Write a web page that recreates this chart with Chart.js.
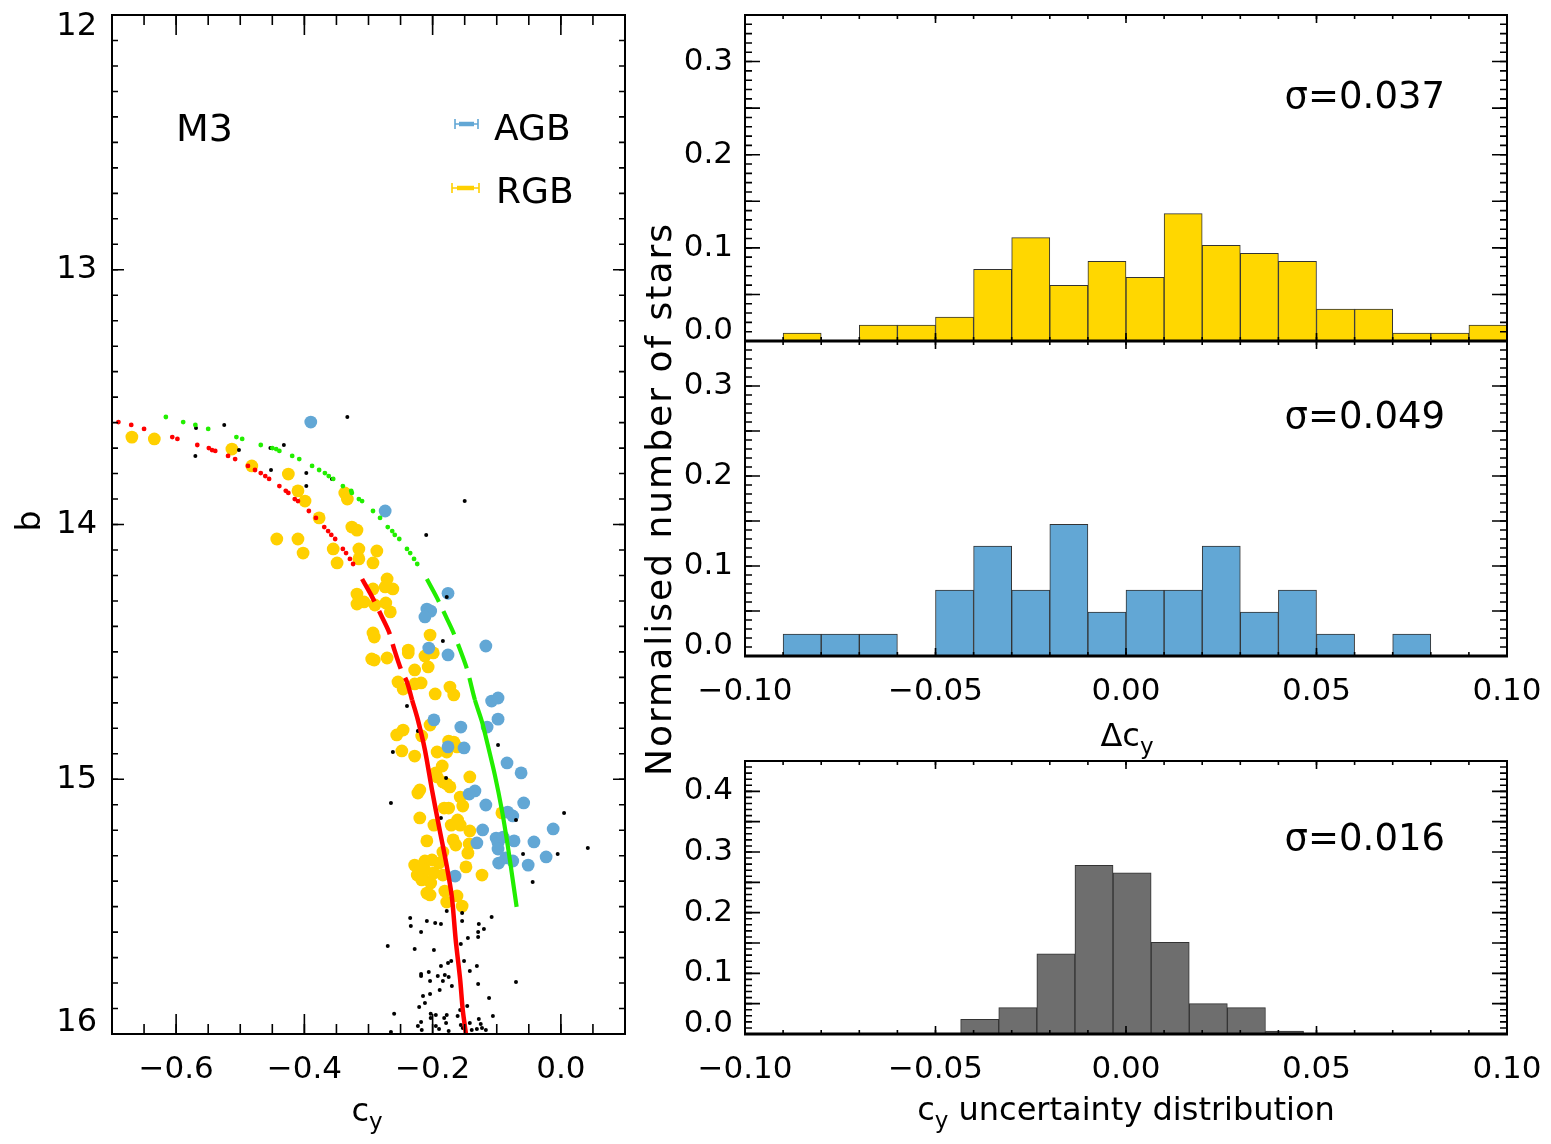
<!DOCTYPE html>
<html><head><meta charset="utf-8">
<script src="https://cdn.jsdelivr.net/npm/chart.js@4/dist/chart.umd.min.js"></script>
<style>
html,body{margin:0;padding:0;background:#fff;}
#wrap{position:relative;width:1551px;height:1144px;background:#fff;}
canvas{position:absolute;left:0;top:0;}
</style></head><body><div id="wrap">
<canvas id="cmd" width="1551" height="1144"></canvas>
<canvas id="h1" width="1551" height="1144"></canvas>
<canvas id="h2" width="1551" height="1144"></canvas>
<canvas id="h3" width="1551" height="1144"></canvas>
</div>
<script>
// ---------------- DATA ----------------
// CMD (c_y vs b)
const rgbStars = [[-0.669,13.657],[-0.634,13.664],[-0.513,13.704],[-0.482,13.770],[-0.425,13.802],[-0.410,13.868],[-0.399,13.908],[-0.377,13.974],[-0.443,14.057],[-0.410,14.057],[-0.402,14.112],[-0.355,14.096],[-0.349,14.151],[-0.337,13.876],[-0.333,13.900],[-0.326,14.010],[-0.318,14.022],[-0.315,14.096],[-0.315,14.135],[-0.293,14.151],[-0.287,14.104],[-0.271,14.214],[-0.274,14.245],[-0.262,14.253],[-0.273,14.308],[-0.266,14.343],[-0.318,14.273],[-0.318,14.312],[-0.307,14.304],[-0.293,14.253],[-0.290,14.316],[-0.293,14.426],[-0.291,14.442],[-0.204,14.434],[-0.238,14.493],[-0.295,14.528],[-0.291,14.532],[-0.271,14.524],[-0.238,14.504],[-0.199,14.504],[-0.212,14.516],[-0.228,14.571],[-0.207,14.559],[-0.254,14.618],[-0.246,14.646],[-0.228,14.626],[-0.218,14.622],[-0.196,14.665],[-0.173,14.638],[-0.167,14.669],[-0.204,14.787],[-0.246,14.807],[-0.256,14.826],[-0.217,14.830],[-0.248,14.889],[-0.228,14.909],[-0.193,14.893],[-0.178,14.893],[-0.175,14.850],[-0.167,14.854],[-0.162,14.873],[-0.185,14.948],[-0.195,14.975],[-0.193,14.991],[-0.142,14.991],[-0.184,15.011],[-0.178,15.019],[-0.173,15.030],[-0.220,15.042],[-0.223,15.054],[-0.157,15.070],[-0.153,15.105],[-0.182,15.113],[-0.175,15.113],[-0.220,15.152],[-0.198,15.180],[-0.171,15.180],[-0.161,15.160],[-0.157,15.180],[-0.142,15.203],[-0.209,15.242],[-0.168,15.238],[-0.164,15.258],[-0.143,15.254],[-0.145,15.290],[-0.184,15.286],[-0.228,15.337],[-0.212,15.321],[-0.201,15.317],[-0.190,15.329],[-0.221,15.364],[-0.212,15.356],[-0.224,15.376],[-0.215,15.388],[-0.198,15.368],[-0.184,15.376],[-0.203,15.407],[-0.209,15.447],[-0.204,15.454],[-0.181,15.439],[-0.148,15.344],[-0.123,15.376],[-0.162,15.458],[-0.092,15.132],[-0.217,15.395],[-0.178,15.482],[-0.154,15.498]];
const agbStars = [[-0.390,13.598],[-0.274,13.947],[-0.176,14.270],[-0.209,14.332],[-0.203,14.340],[-0.212,14.363],[-0.117,14.477],[-0.206,14.485],[-0.176,14.512],[-0.108,14.693],[-0.098,14.681],[-0.098,14.764],[-0.198,14.767],[-0.156,14.795],[-0.115,14.795],[-0.176,14.873],[-0.151,14.877],[-0.084,14.936],[-0.062,14.975],[-0.134,15.046],[-0.143,15.058],[-0.117,15.101],[-0.058,15.093],[-0.083,15.129],[-0.075,15.144],[-0.012,15.195],[-0.122,15.199],[-0.131,15.250],[-0.101,15.231],[-0.098,15.250],[-0.098,15.274],[-0.090,15.227],[-0.073,15.242],[-0.042,15.246],[-0.086,15.309],[-0.097,15.329],[-0.075,15.321],[-0.051,15.337],[-0.023,15.305],[-0.165,15.380]];
const otherStars = [[-0.569,13.621],[-0.570,13.731],[-0.525,13.609],[-0.502,13.708],[-0.453,13.700],[-0.432,13.688],[-0.452,13.786],[-0.397,13.798],[-0.397,13.849],[-0.357,13.821],[-0.333,13.578],[-0.150,13.908],[-0.210,14.041],[-0.178,14.285],[-0.184,14.457],[-0.240,14.712],[-0.223,14.811],[-0.262,14.893],[-0.098,14.866],[-0.179,14.995],[-0.265,15.093],[-0.187,15.152],[-0.070,15.160],[0.005,15.132],[-0.059,15.293],[-0.005,15.293],[0.042,15.270],[-0.044,15.403],[-0.235,15.545],[-0.234,15.576],[-0.209,15.556],[-0.196,15.564],[-0.187,15.568],[-0.218,15.600],[-0.108,15.541],[-0.128,15.568],[-0.120,15.588],[-0.129,15.600],[-0.129,15.619],[-0.154,15.525],[-0.178,15.517],[-0.154,15.556],[-0.145,15.623],[-0.270,15.655],[-0.228,15.666],[-0.198,15.670],[-0.156,15.647],[-0.176,15.721],[-0.171,15.713],[-0.187,15.733],[-0.151,15.713],[-0.131,15.733],[-0.142,15.753],[-0.218,15.764],[-0.218,15.772],[-0.206,15.757],[-0.204,15.792],[-0.192,15.772],[-0.181,15.768],[-0.175,15.776],[-0.184,15.792],[-0.170,15.812],[-0.189,15.827],[-0.129,15.804],[-0.070,15.796],[-0.215,15.851],[-0.204,15.843],[-0.212,15.878],[-0.221,15.894],[-0.146,15.890],[-0.112,15.859],[-0.260,15.921],[-0.203,15.921],[-0.203,15.937],[-0.195,15.925],[-0.178,15.925],[-0.161,15.929],[-0.182,15.937],[-0.106,15.929],[-0.218,15.953],[-0.223,15.969],[-0.195,15.969],[-0.190,15.980],[-0.179,15.957],[-0.175,15.988],[-0.217,15.984],[-0.265,15.992],[-0.156,15.965],[-0.153,15.976],[-0.142,15.957],[-0.139,15.984],[-0.131,15.980],[-0.125,15.961],[-0.123,15.976],[-0.117,15.984],[-0.128,15.941],[-0.157,15.906]];
const rgbRidgeDots = [[-0.690,13.598],[-0.670,13.609],[-0.650,13.625],[-0.606,13.657],[-0.598,13.664],[-0.567,13.688],[-0.549,13.700],[-0.544,13.708],[-0.539,13.711],[-0.519,13.731],[-0.508,13.743],[-0.488,13.770],[-0.477,13.786],[-0.468,13.798],[-0.461,13.810],[-0.455,13.821],[-0.439,13.849],[-0.429,13.868],[-0.425,13.876],[-0.415,13.900],[-0.410,13.908],[-0.393,13.947],[-0.382,13.974],[-0.369,14.010],[-0.363,14.026],[-0.358,14.041],[-0.352,14.057],[-0.340,14.096],[-0.335,14.112],[-0.329,14.135],[-0.324,14.155]];
const rgbRidgeLine = [[-0.310,14.214],[-0.295,14.281],[-0.279,14.363],[-0.268,14.422],[-0.260,14.489],[-0.249,14.571],[-0.240,14.618],[-0.232,14.689],[-0.223,14.767],[-0.212,14.885],[-0.201,15.042],[-0.189,15.199],[-0.178,15.340],[-0.170,15.462],[-0.164,15.631],[-0.157,15.788],[-0.153,15.906],[-0.148,16.000]];
const agbRidgeDots = [[-0.616,13.578],[-0.589,13.598],[-0.570,13.609],[-0.550,13.625],[-0.506,13.657],[-0.497,13.664],[-0.468,13.688],[-0.450,13.700],[-0.444,13.704],[-0.439,13.711],[-0.419,13.731],[-0.408,13.743],[-0.388,13.770],[-0.377,13.786],[-0.368,13.798],[-0.362,13.810],[-0.355,13.821],[-0.340,13.849],[-0.327,13.868],[-0.326,13.876],[-0.315,13.900],[-0.310,13.908],[-0.293,13.947],[-0.282,13.974],[-0.270,14.010],[-0.263,14.026],[-0.259,14.041],[-0.252,14.057],[-0.240,14.096],[-0.235,14.112],[-0.229,14.135],[-0.224,14.155]];
const agbRidgeLine = [[-0.209,14.214],[-0.193,14.289],[-0.179,14.363],[-0.168,14.422],[-0.157,14.493],[-0.146,14.571],[-0.134,14.689],[-0.123,14.775],[-0.114,14.866],[-0.103,14.983],[-0.092,15.121],[-0.083,15.258],[-0.075,15.396],[-0.069,15.501]];

// Histograms of delta c_y (bin left edges, width 0.01)
const binWidth = 0.01;
const dcyBinLeft = [-0.10,-0.09,-0.08,-0.07,-0.06,-0.05,-0.04,-0.03,-0.02,-0.01,0.00,0.01,0.02,0.03,0.04,0.05,0.06,0.07,0.08,0.09];
const rgbFrac = [0,0.0085,0,0.0170,0.0170,0.0256,0.0769,0.1110,0.0598,0.0855,0.0684,0.1368,0.1026,0.0940,0.0855,0.0342,0.0342,0.0085,0.0085,0.0170];
const agbFrac = [0,0.0244,0.0244,0.0244,0,0.0732,0.1220,0.0732,0.1463,0.0488,0.0732,0.0732,0.1220,0.0488,0.0732,0.0244,0,0.0244,0,0];
// c_y uncertainty distribution
const errBinLeft = [-0.0434,-0.0334,-0.0234,-0.0134,-0.0034,0.0066,0.0166,0.0266,0.0366];
const errFrac = [0.024,0.0435,0.132,0.278,0.2656,0.151,0.050,0.0435,0.005];

// Tick labels
const cmdXTicks = [-0.6,-0.4,-0.2,0.0];
const cmdYTicks = [12,13,14,15,16];
const histXTicks = [-0.10,-0.05,0.00,0.05,0.10];
const histYTicks = [0.0,0.1,0.2,0.3];
const errYTicks = [0.0,0.1,0.2,0.3,0.4];
const sigmaLabels = ['\u03C3=0.037','\u03C3=0.049','\u03C3=0.016'];

// ---------------- RENDER ----------------
const FONT = '"DejaVu Sans", sans-serif';
Chart.defaults.font.family = FONT;
Chart.defaults.color = '#000';
Chart.defaults.animation = false;
Chart.defaults.plugins.legend.display = false;
Chart.defaults.plugins.tooltip.enabled = false;

const fmt = (v, d) => (v < -1e-9 ? '\u2212' : '') + Math.abs(v).toFixed(d);
const pts = a => a.map(([x, y]) => ({x, y}));
const bars = (left, vals) => left.map((e, i) => ({x: e + binWidth / 2, y: vals[i] ? vals[i] : null}));

function drawParts(ctx, t) {
  ctx.save();
  ctx.translate(t.x, t.y);
  if (t.rot) ctx.rotate(t.rot);
  ctx.fillStyle = '#000';
  ctx.textBaseline = 'middle';
  if (t.ls) ctx.letterSpacing = t.ls + 'px';
  const parts = t.parts.map(([s, sub]) => {
    const size = sub ? t.size * 0.72 : t.size;
    ctx.font = size + 'px ' + FONT;
    return {s, sub, size, w: ctx.measureText(s).width};
  });
  const total = parts.reduce((a, p) => a + p.w, 0);
  let x = t.align === 'left' ? 0 : t.align === 'right' ? -total : -total / 2;
  for (const p of parts) {
    ctx.font = p.size + 'px ' + FONT;
    ctx.textAlign = 'left';
    ctx.fillText(p.s, x, p.sub ? t.size * 0.32 : 0);
    x += p.w;
  }
  ctx.restore();
}

const idlFrame = {
  id: 'idlFrame',
  afterDatasetsDraw(chart, args, o) {
    const {ctx, chartArea: a} = chart;
    const xs = chart.scales.x, ys = chart.scales.y;
    ctx.save();
    ctx.strokeStyle = '#000';
    ctx.lineCap = 'butt';
    const each = (scale, step, fn) => {
      const k0 = Math.ceil(scale.min / step - 1e-6), k1 = Math.floor(scale.max / step + 1e-6);
      for (let k = k0; k <= k1; k++) fn(scale.getPixelForValue(k * step));
    };
    ctx.lineWidth = 1.6;
    const xt = (step, len) => each(xs, step, p => {
      ctx.beginPath();
      ctx.moveTo(p, a.bottom); ctx.lineTo(p, a.bottom - len);
      ctx.moveTo(p, a.top); ctx.lineTo(p, a.top + len);
      ctx.stroke();
    });
    const yt = (step, len) => each(ys, step, p => {
      ctx.beginPath();
      ctx.moveTo(a.left, p); ctx.lineTo(a.left + len, p);
      ctx.moveTo(a.right, p); ctx.lineTo(a.right - len, p);
      ctx.stroke();
    });
    xt(o.xMinor, o.xLen[1]); xt(o.xMajor, o.xLen[0]);
    yt(o.yMinor, o.yLen[1]); yt(o.yMajor, o.yLen[0]);
    ctx.lineWidth = 2;
    ctx.strokeRect(a.left, a.top, a.width, a.height);
    if (o.bottomWidth) {
      ctx.lineWidth = o.bottomWidth;
      ctx.beginPath(); ctx.moveTo(a.left - 1, a.bottom); ctx.lineTo(a.right + 1, a.bottom); ctx.stroke();
    }
    (o.glyphs || []).forEach(g => {
      ctx.strokeStyle = g.color;
      ctx.lineWidth = 1.6;
      ctx.beginPath();
      ctx.moveTo(g.x1, g.y); ctx.lineTo(g.x2, g.y);
      ctx.moveTo(g.x1, g.y - 5); ctx.lineTo(g.x1, g.y + 5);
      ctx.moveTo(g.x2, g.y - 5); ctx.lineTo(g.x2, g.y + 5);
      ctx.stroke();
      ctx.lineWidth = 4.5;
      ctx.beginPath(); ctx.moveTo(g.t1, g.y); ctx.lineTo(g.t2, g.y); ctx.stroke();
    });
    (o.texts || []).forEach(t => drawParts(ctx, t));
    ctx.restore();
  }
};

// opts.shift(v) -> 'up' | 'down' | null : nudges end labels inward like the original
function linScale(opts) {
  return {
    type: 'linear', min: opts.min, max: opts.max, reverse: !!opts.reverse, offset: false,
    grid: {display: false, drawTicks: false}, border: {display: false},
    afterBuildTicks: s => { s.ticks = opts.ticks.map(v => ({value: v})); },
    ticks: {display: opts.show !== false, padding: opts.pad, maxRotation: 0, minRotation: 0, autoSkip: false,
            font: {size: opts.size || 31, lineHeight: opts.lh || 1.2},
            callback: v => {
              const s = fmt(v, opts.digits);
              const sh = opts.shift ? opts.shift(v) : null;
              return sh === 'up' ? [s, ''] : sh === 'down' ? ['', s] : s;
            }},
    afterFit: s => {
      if (opts.width !== undefined) s.width = opts.width;
      if (opts.height !== undefined) s.height = opts.height;
      s.paddingLeft = s.paddingRight = s.paddingTop = s.paddingBottom = 0;
    }
  };
}

// ---- CMD panel ----
new Chart(document.getElementById('cmd'), {
  type: 'scatter',
  data: {datasets: [
    {data: pts(rgbStars), pointRadius: 6.4, pointBackgroundColor: '#FFD000', pointBorderWidth: 0, showLine: false, order: 6},
    {data: pts(agbStars), pointRadius: 6.4, pointBackgroundColor: '#62A7D5', pointBorderWidth: 0, showLine: false, order: 5},
    {data: pts(otherStars), pointRadius: 2, pointBackgroundColor: '#000', pointBorderWidth: 0, showLine: false, order: 4},
    {data: pts(rgbRidgeDots), pointRadius: 2.4, pointBackgroundColor: '#FF0000', pointBorderWidth: 0, showLine: false, order: 2},
    {data: pts(agbRidgeDots), pointRadius: 2.4, pointBackgroundColor: '#22EE00', pointBorderWidth: 0, showLine: false, order: 2},
    {data: pts(rgbRidgeLine), showLine: true, tension: 0.3, pointRadius: 0, borderColor: '#FF0000', borderWidth: 4.5, order: 1,
     segment: {borderDash: c => c.p1.parsed.y < 14.7 ? [26, 10] : []}},
    {data: pts(agbRidgeLine), showLine: true, tension: 0.3, pointRadius: 0, borderColor: '#22EE00', borderWidth: 4.2, order: 1,
     segment: {borderDash: c => c.p1.parsed.y < 14.7 ? [26, 10] : []}}
  ]},
  options: {
    responsive: false,
    layout: {padding: {left: 0, top: 15, right: 1551 - 625, bottom: 0}},
    scales: {
      x: linScale({min: -0.7, max: 0.1, ticks: cmdXTicks, digits: 1, pad: 17, height: 110, size: 31}),
      y: linScale({min: 12, max: 16, reverse: true, ticks: cmdYTicks, digits: 0, pad: 15, width: 112, size: 32, lh: 0.7,
                   shift: v => v === 12 ? 'down' : v === 16 ? 'up' : null})
    },
    plugins: {idlFrame: {
      xMajor: 0.2, xMinor: 0.05, xLen: [20, 10], yMajor: 1, yMinor: 0.1, yLen: [12, 6],
      glyphs: [{x1: 455, x2: 478, t1: 459, t2: 474, y: 124, color: '#62A7D5'},
               {x1: 452, x2: 479, t1: 457, t2: 474, y: 188, color: '#FFD000'}],
      texts: [
        {parts: [['M3', 0]], x: 176, y: 131, size: 38, align: 'left'},
        {parts: [['AGB', 0]], x: 494, y: 131, size: 36, align: 'left'},
        {parts: [['RGB', 0]], x: 496, y: 194, size: 36, align: 'left'},
        {parts: [['b', 0]], x: 31, y: 521, size: 33, align: 'center', rot: -Math.PI / 2},
        {parts: [['c', 0], ['y', 1]], x: 367, y: 1113, size: 32, align: 'center'}
      ]
    }}
  },
  plugins: [idlFrame]
});

// ---- histograms ----
function histChart(id, cfg) {
  return new Chart(document.getElementById(id), {
    type: 'bar',
    data: {datasets: [{data: cfg.data, backgroundColor: cfg.color, borderColor: '#333', borderWidth: 1,
      borderSkipped: false, barPercentage: 1, categoryPercentage: 1, grouped: false}]},
    options: {
      responsive: false,
      layout: {padding: {left: 0, top: cfg.top, right: 1551 - 1507, bottom: cfg.padBottom}},
      scales: {
        x: linScale({min: -0.1, max: 0.1, ticks: histXTicks, digits: 2, pad: 17, height: cfg.xHeight, show: cfg.xLabels}),
        y: linScale({min: 0, max: cfg.ymax, ticks: cfg.yTicks, digits: 1, pad: 12, width: 745, lh: 0.62,
                     shift: v => v === 0 ? 'up' : null})
      },
      plugins: {idlFrame: {xMajor: 0.05, xMinor: 0.01, xLen: [8, 4], yMajor: 0.05, yMinor: 0.01, yLen: [15, 7],
        bottomWidth: 3, texts: cfg.texts}}
    },
    plugins: [idlFrame]
  });
}

histChart('h1', {data: bars(dcyBinLeft, rgbFrac), color: '#FFD700', top: 15, padBottom: 1144 - 341, xHeight: 0,
  xLabels: false, ymax: 0.35, yTicks: histYTicks,
  texts: [{parts: [[sigmaLabels[0], 0]], x: 1445, y: 98, size: 37, align: 'right'}]});
histChart('h2', {data: bars(dcyBinLeft, agbFrac), color: '#62A7D5', top: 341, padBottom: 0, xHeight: 1144 - 656,
  xLabels: true, ymax: 0.35, yTicks: histYTicks,
  texts: [{parts: [[sigmaLabels[1], 0]], x: 1445, y: 418, size: 37, align: 'right'},
          {parts: [['\u0394c', 0], ['y', 1]], x: 1127, y: 738, size: 32, align: 'center'},
          {parts: [['Normalised number of stars', 0]], x: 662, y: 499, size: 36, align: 'center', rot: -Math.PI / 2, ls: 2}]});
histChart('h3', {data: bars(errBinLeft, errFrac), color: '#6E6E6E', top: 761, padBottom: 0, xHeight: 1144 - 1034,
  xLabels: true, ymax: 0.45, yTicks: errYTicks,
  texts: [{parts: [[sigmaLabels[2], 0]], x: 1445, y: 840, size: 37, align: 'right'},
          {parts: [['c', 0], ['y', 1], [' uncertainty distribution', 0]], x: 1126, y: 1112, size: 32, align: 'center'}]});
</script>
</body></html>
